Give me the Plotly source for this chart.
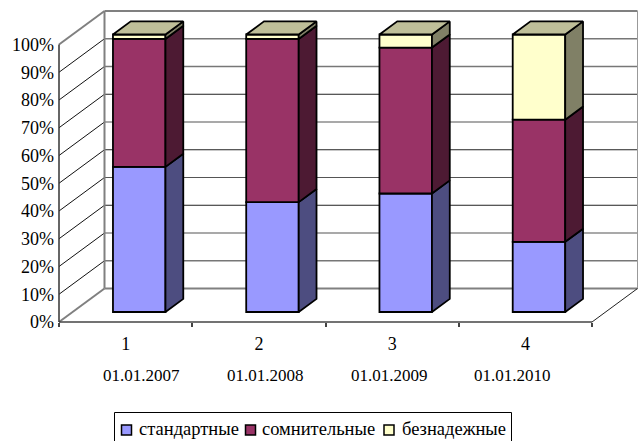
import plotly.graph_objects as go

# Chart data
quarters = ["1", "2", "3", "4"]
dates = ["01.01.2007", "01.01.2008", "01.01.2009", "01.01.2010"]
standard = [52.3, 39.6, 42.7, 25.3]
doubtful = [46.1, 58.8, 52.6, 44.0]
bad = [1.6, 1.6, 4.7, 30.7]
percent_ticks = [0, 10, 20, 30, 40, 50, 60, 70, 80, 90, 100]
series_names = ["стандартные", "сомнительные", "безнадежные"]

W, H = 639, 441
AX_LEFT, AX_BOTTOM = 59.0, 322.0      # pixel position of the front 0% corner
PX_PER_CAT, PX_PER_PCT = 133.25, 2.775
DEPTH_X = 45.5 / PX_PER_CAT           # oblique offset of the back wall, category units
DEPTH_Y = 33.5 / PX_PER_PCT           # oblique offset of the back wall, percent units
BAR_WIDTH = 0.394
BAR_NEAR, BAR_FAR = 0.2985, 0.69

FRONT = ["#9999FF", "#993366", "#FFFFCC"]
SIDE = ["#4D4D80", "#4D1A33", "#808066"]
TOP = "#BFBF99"
EDGE = "#000000"
EDGE_WIDTH = 1.8
WALL = "#808080"
FONT = "Liberation Serif"

# Grid colours per percent level (thin dark and slightly heavier grey strokes)
grid_style = {0: (WALL, 2), 10: ("#777777", 1.4), 20: ("#555555", 1.2), 30: ("#222222", 1),
              40: ("#555555", 1.2), 50: ("#222222", 1), 60: ("#555555", 1.2), 70: ("#222222", 1),
              80: ("#777777", 1.4), 90: ("#777777", 1.4), 100: (WALL, 2)}
diag_style = {0: (WALL, 2), 100: (WALL, 2)}


def project(x, v, depth):
    """Oblique projection of (category, percent, depth) onto the plot axes."""
    return x + depth * DEPTH_X, v + depth * DEPTH_Y


def px(x):
    return x / W


def py(y):
    return 1 - y / H


def seg(p, q, color, width, layer="below"):
    return dict(type="line", xref="x", yref="y", x0=p[0], y0=p[1], x1=q[0], y1=q[1],
                line=dict(color=color, width=width), layer=layer)


def add_face(corners, fill):
    xs = [c[0] for c in corners] + [corners[0][0]]
    ys = [c[1] for c in corners] + [corners[0][1]]
    fig.add_trace(go.Scatter(x=xs, y=ys, mode="lines", fill="toself", fillcolor=fill,
                             line=dict(color=EDGE, width=EDGE_WIDTH),
                             showlegend=False, hoverinfo="skip"))


fig = go.Figure()
shapes = []

# Back wall and left wall grid lines
for v in percent_ticks:
    color, width = grid_style[v]
    shapes.append(seg(project(0, v, 1), project(4, v, 1), color, width))
    dcolor, dwidth = diag_style.get(v, ("#111111", 1))
    shapes.append(seg(project(0, v, 0), project(0, v, 1), dcolor, dwidth))
shapes.append(seg(project(0, 0, 1), project(0, 100, 1), WALL, 2))
shapes.append(seg(project(4, 0, 1), project(4, 100, 1), "#999999", 1))
shapes.append(seg(project(4, 0, 0), project(4, 0, 1), "#222222", 1))
shapes.append(seg(project(0, 0, 0), project(4, 0, 0), "#444444", 1.5, "above"))
shapes.append(seg(project(0, 0, 0), project(0, 100, 0), "#333333", 1.5, "above"))

stack = [standard, doubtful, bad]
base = [0.0] * len(quarters)
for s, values in enumerate(stack):
    centers, bases = [], []
    for i in range(len(values)):
        cx, v_low = project(i + 0.5, base[i], BAR_NEAR)
        centers.append(cx)
        bases.append(v_low)
    # Front faces of this stack level
    fig.add_trace(go.Bar(x=centers, y=values, base=bases, width=BAR_WIDTH, name=series_names[s],
                         marker=dict(color=FRONT[s], line=dict(color=EDGE, width=EDGE_WIDTH)),
                         showlegend=False, hoverinfo="skip"))
    # Right-hand side faces of this stack level
    for i, val in enumerate(values):
        right = i + 0.5 + BAR_WIDTH / 2
        add_face([project(right, base[i], BAR_NEAR), project(right, base[i] + val, BAR_NEAR),
                  project(right, base[i] + val, BAR_FAR), project(right, base[i], BAR_FAR)], SIDE[s])
    base = [b_ + v_ for b_, v_ in zip(base, values)]

# Top caps of the stacks
for i, total in enumerate(base):
    left, right = i + 0.5 - BAR_WIDTH / 2, i + 0.5 + BAR_WIDTH / 2
    add_face([project(left, total, BAR_NEAR), project(right, total, BAR_NEAR),
              project(right, total, BAR_FAR), project(left, total, BAR_FAR)], TOP)

annotations = []
# Date captions under the category numbers
date_centers = [141.3, 265.0, 389.0, 512.3]
for label, cx in zip(dates, date_centers):
    annotations.append(dict(xref="paper", yref="paper", x=px(cx), y=py(375), text=label,
                            showarrow=False, xanchor="center", yanchor="middle",
                            font=dict(family=FONT, size=17, color="#000000")))

# Legend box and entries
shapes.append(dict(type="rect", xref="paper", yref="paper", x0=px(114.5), x1=px(511.5),
                   y0=py(448), y1=py(412.5), line=dict(color="#000000", width=1),
                   fillcolor="#FFFFFF", layer="above"))
legend_swatches = [121.5, 245.5, 384.0]
legend_texts = [136.5, 260.0, 400.0]
for s, name in enumerate(series_names):
    sx = legend_swatches[s]
    shapes.append(dict(type="rect", xref="paper", yref="paper", x0=px(sx), x1=px(sx + 10),
                       y0=py(435), y1=py(425), fillcolor=FRONT[s],
                       line=dict(color="#000000", width=1.5), layer="above"))
    annotations.append(dict(xref="paper", yref="paper", x=px(legend_texts[s]), y=py(429), text=name,
                            showarrow=False, xanchor="left", yanchor="middle",
                            font=dict(family=FONT, size=18.5, color="#000000")))

fig.update_layout(
    width=W, height=H, autosize=False,
    margin=dict(l=0, r=0, t=0, b=0),
    paper_bgcolor="#FFFFFF", plot_bgcolor="#FFFFFF",
    barmode="overlay", showlegend=False,
    shapes=shapes, annotations=annotations,
    font=dict(family=FONT, color="#000000"),
    xaxis=dict(range=[-AX_LEFT / PX_PER_CAT, (W - AX_LEFT) / PX_PER_CAT], anchor="free",
               position=1 - AX_BOTTOM / H, showgrid=False, zeroline=False, showline=False,
               tickmode="array", tickvals=[i + 0.5 for i in range(4)], ticktext=quarters,
               ticks="", ticklabelstandoff=9, tickfont=dict(family=FONT, size=18, color="#000000"),
               minor=dict(tickmode="array", tickvals=[0, 1, 2, 3, 4], ticks="outside", ticklen=4,
                          tickwidth=1.5, tickcolor="#444444")),
    yaxis=dict(range=[-(H - AX_BOTTOM) / PX_PER_PCT, AX_BOTTOM / PX_PER_PCT], anchor="free",
               position=AX_LEFT / W, showgrid=False, zeroline=False, showline=False,
               tickmode="array", tickvals=percent_ticks, ticktext=[f"{v}%" for v in percent_ticks],
               ticks="", ticklabelstandoff=5, tickfont=dict(family=FONT, size=18, color="#000000")),
)

fig.write_html("out.html")
